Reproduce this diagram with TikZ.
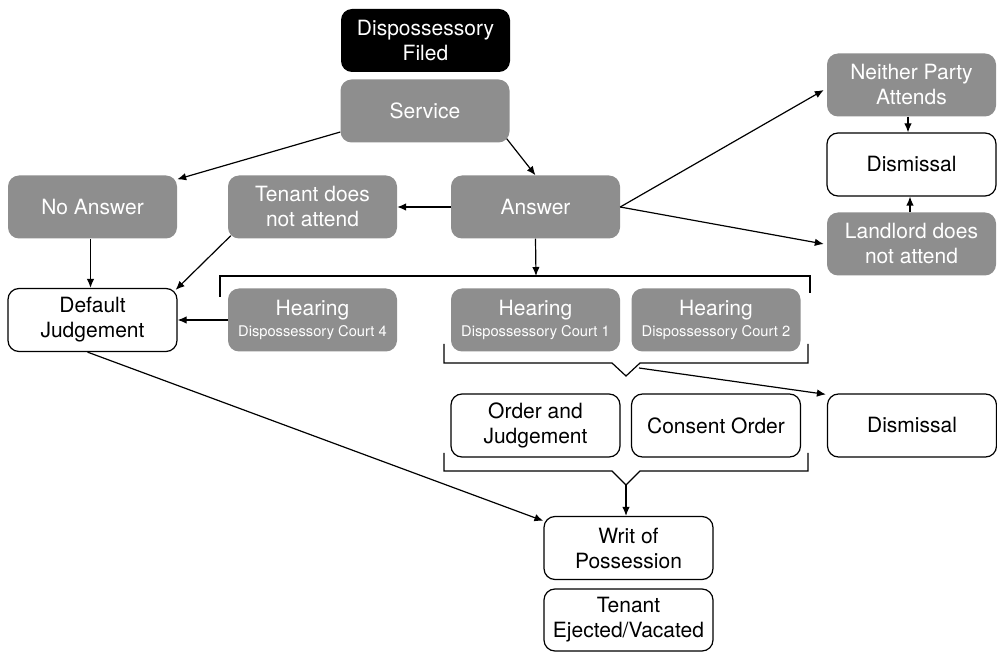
\documentclass[tikz,border=0pt]{standalone}
\usepackage{fontspec}
\setmainfont{TeX Gyre Heros}
\usetikzlibrary{arrows.meta,calc}
\definecolor{boxgray}{RGB}{142,142,142}
\tikzset{
  base/.style={rounded corners=11pt, minimum width=169pt, minimum height=63pt, inner sep=0pt, align=center, font=\fontsize{21}{25}\selectfont},
  grayb/.style={base, fill=boxgray, text=white},
  blackb/.style={base, fill=black, text=white},
  whiteb/.style={base, draw=black, line width=1.2pt, fill=white, text=black},
  conn/.style={line width=1.2pt, -{Latex[length=9pt,width=7.5pt]}},
  brk/.style={line width=1.2pt},
}
\newcommand{\smalltxt}[1]{{\fontsize{14.7}{17}\selectfont #1}}
\begin{document}
\begin{tikzpicture}[x=1pt,y=-1pt]
\useasboundingbox (0,0) rectangle (997,652);
% nodes
\node[blackb] (filed) at (425.5,40.5) {Dispossessory\\Filed};
\node[grayb] (service) at (425,111) {Service};
\node[grayb] (noans) at (92.5,207) {No Answer};
\node[grayb] (tenant) at (312.5,207) {Tenant does\\not attend};
\node[grayb] (answer) at (535.5,207) {Answer};
\node[grayb] (neither) at (911.5,85) {Neither Party\\Attends};
\node[whiteb] (dism1) at (911.5,164.5) {Dismissal};
\node[grayb] (landlord) at (911.5,244) {Landlord does\\not attend};
\node[whiteb] (default) at (92.5,320) {Default\\Judgement};
\node[grayb] (hear4) at (312.5,320) {Hearing\\[-4pt]\smalltxt{Dispossessory Court 4}};
\node[grayb] (hear1) at (535.5,320) {Hearing\\[-4pt]\smalltxt{Dispossessory Court 1}};
\node[grayb] (hear2) at (716,320) {Hearing\\[-4pt]\smalltxt{Dispossessory Court 2}};
\node[whiteb] (order) at (535.5,425.5) {Order and\\Judgement};
\node[whiteb] (consent) at (716,425.5) {Consent Order};
\node[whiteb] (dism2) at (912,425.5) {Dismissal};
\node[whiteb] (writ) at (628.5,548) {Writ of\\Possession};
\node[whiteb, minimum height=62pt] (eject) at (628.5,620) {Tenant\\Ejected/Vacated};
% brackets
\coordinate (btop) at (536,276);
\coordinate (b2tip) at (626,376);
\coordinate (b2out) at (639,368);
\coordinate (b3tip) at (626,485);
\draw[brk] (220,297) -- (220,276) -- (810,276) -- (810,293);
\draw[brk] (444,344) -- (444,363) -- (612,363) -- (b2tip) -- (640,363) -- (808,363) -- (808,344);
\draw[brk] (444,453) -- (444,471) -- (612,471) -- (b3tip) -- (640,471) -- (808,471) -- (808,453);
% connectors
\draw[conn] ([yshift=-21pt]service.west) -- ([yshift=-4pt]noans.north east);
\draw[conn] ([xshift=-3pt,yshift=4pt]service.south east) -- (answer.north);
\draw[conn] (answer.west) -- (tenant.east);
\draw[conn] (answer.east) -- ([xshift=-3pt,yshift=-5pt]neither.west);
\draw[conn] (answer.east) -- ([xshift=-3pt]landlord.west);
\draw[conn] ([xshift=-3.5pt]neither.south) -- ([xshift=-3.5pt]dism1.north);
\draw[conn] ([xshift=-1.5pt]landlord.north) -- ([xshift=-1.5pt]dism1.south);
\draw[conn] (answer.south) -- (btop);
\draw[conn] ([xshift=-2pt]noans.south) -- ([xshift=-2pt]default.north);
\draw[conn] ([xshift=3pt,yshift=3pt]tenant.south west) -- ([xshift=-2pt,yshift=-2pt]default.north east);
\draw[conn] (hear4.west) -- (default.east);
\draw[conn] ([xshift=-5pt]default.south) -- ([yshift=-5pt]writ.north west);
\draw[conn] (b2out) -- ([xshift=-1pt,yshift=-1pt]dism2.north west);
\draw[conn] (b3tip) -- (b3tip |- writ.north);
\end{tikzpicture}
\end{document}
